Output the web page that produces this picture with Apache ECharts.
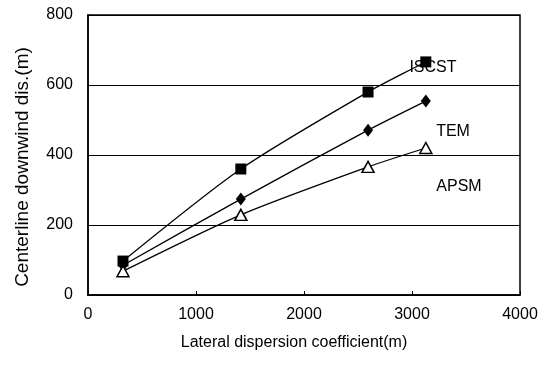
<!DOCTYPE html>
<html><head><meta charset="utf-8">
<script src="https://cdn.jsdelivr.net/npm/echarts@6/dist/echarts.min.js"></script>
<style>html,body{margin:0;padding:0;background:#fff}#c{width:547px;height:367px}</style>
</head><body><div id="c"></div>
<script>
const xValues = [324, 1415, 2593, 3128];
const iscst = [97, 360, 580, 666];
const tem = [85, 274, 471, 554];
const apsm = [68, 229, 366, 420];
const xTicks = [0, 1000, 2000, 3000, 4000];
const yTicks = [0, 200, 400, 600, 800];
const seriesNames = ['ISCST', 'TEM', 'APSM'];

const font = '"Liberation Sans", Arial, sans-serif';
const chart = echarts.init(document.getElementById('c'), null, {renderer: 'canvas'});
function pairs(ys){ return xValues.map((x,i)=>[x, ys[i]]); }
const lineStyle = {color:'#000', width:1.3};
const labelStyle = {show:true, fontFamily:font, fontSize:16, color:'#000', position:'inside'};
chart.setOption({
  animation:false,
  backgroundColor:'#fff',
  grid:{left:88, right:27, top:15, bottom:72, show:true, borderColor:'#000', borderWidth:1.5, backgroundColor:'transparent'},
  xAxis:{type:'value', min:xTicks[0], max:xTicks[xTicks.length-1], interval:1000,
    name:'Lateral dispersion coefficient(m)', nameLocation:'middle', nameGap:40,
    nameTextStyle:{fontFamily:font, fontSize:16, color:'#000', padding:[0,20,0,0]},
    axisLine:{show:true, lineStyle:{color:'#000', width:1.5}},
    axisTick:{show:true, inside:true, length:4, lineStyle:{color:'#000'}},
    axisLabel:{fontFamily:font, fontSize:16, color:'#000', margin:12, formatter:v=>String(v)},
    splitLine:{show:false}},
  yAxis:{type:'value', min:yTicks[0], max:yTicks[yTicks.length-1], interval:200,
    name:'Centerline downwind dis.(m)', nameLocation:'middle', nameGap:56,
    nameTextStyle:{fontFamily:font, fontSize:19, color:'#000', padding:[0,24,0,0]},
    axisLine:{show:true, lineStyle:{color:'#000', width:1.5}},
    axisTick:{show:false},
    axisLabel:{fontFamily:font, fontSize:16, color:'#000', margin:15},
    splitLine:{show:true, lineStyle:{color:'#000', width:1}}},
  series:[
    {name:seriesNames[0], type:'line', data:pairs(iscst), smooth:0.25, symbol:'rect', symbolSize:11,
      itemStyle:{color:'#000'}, lineStyle:lineStyle,
      markPoint:{symbol:'circle', symbolSize:0, data:[{coord:[3194, 651], label:Object.assign({formatter:seriesNames[0]}, labelStyle)}]}},
    {name:seriesNames[1], type:'line', data:pairs(tem), smooth:0.25, symbol:'diamond', symbolSize:[10,13],
      itemStyle:{color:'#000'}, lineStyle:lineStyle,
      markPoint:{symbol:'circle', symbolSize:0, data:[{coord:[3380, 466], label:Object.assign({formatter:seriesNames[1]}, labelStyle)}]}},
    {name:seriesNames[2], type:'line', data:pairs(apsm), smooth:0.25, symbol:'triangle', symbolSize:[12,11],
      itemStyle:{color:'#fff', borderColor:'#000', borderWidth:1.5}, lineStyle:lineStyle,
      markPoint:{symbol:'circle', symbolSize:0, data:[{coord:[3435, 309], label:Object.assign({formatter:seriesNames[2]}, labelStyle)}]}}
  ]
});
</script></body></html>
